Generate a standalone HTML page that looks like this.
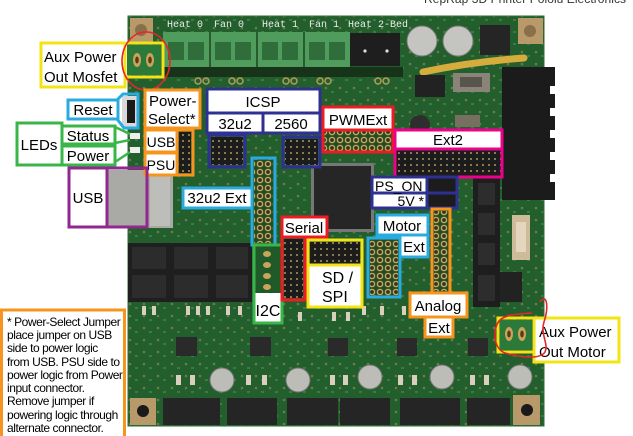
<!DOCTYPE html>
<html><head><meta charset="utf-8"><style>
html,body{margin:0;padding:0;background:#fff;}
svg{display:block;}
.l{font-family:"Liberation Sans",Arial,sans-serif;font-size:15px;fill:#000;}
.c{text-anchor:middle;}
.m{font-family:"Liberation Mono",monospace;font-size:10px;fill:#e8f0e8;}
.f{font-family:"Liberation Sans",Arial,sans-serif;font-size:12px;letter-spacing:-0.45px;fill:#000;}
</style></head><body>
<svg width="633" height="436" viewBox="0 0 633 436" xmlns="http://www.w3.org/2000/svg">
<defs>
<pattern id="hdr" width="6" height="6" patternUnits="userSpaceOnUse"><rect width="6" height="6" fill="#1c1c1c"/><rect x="2" y="2" width="2" height="2" fill="#8a7a50"/></pattern>
<pattern id="ring" width="8" height="8" patternUnits="userSpaceOnUse"><rect width="8" height="8" fill="#1f4f26"/><circle cx="4" cy="4" r="2.6" fill="#3a3020" stroke="#c9a45a" stroke-width="1.4"/></pattern>
<pattern id="via" width="14" height="12" patternUnits="userSpaceOnUse"><rect width="14" height="12" fill="#235e2d"/><circle cx="4" cy="4" r="1.3" fill="#6f7a4a"/><rect x="9" y="7" width="3" height="2" fill="#3d7a45"/></pattern>
</defs>
<rect width="633" height="436" fill="#fff"/>
<!-- top caption (cut off) -->
<text x="424" y="3" font-family="Liberation Sans, Arial, sans-serif" font-size="12" fill="#333" textLength="202">RepRap 3D Printer Pololu Electronics</text>

<!-- board -->
<rect x="128" y="16" width="416" height="410" fill="url(#via)"/>
<rect x="128" y="16" width="416" height="410" fill="none" stroke="#2f6e38" stroke-width="1"/>
<!-- top labels -->
<text class="m" x="167" y="27">Heat 0</text>
<text class="m" x="214" y="27">Fan 0</text>
<text class="m" x="262" y="27">Heat 1</text>
<text class="m" x="309" y="27">Fan 1</text>
<text class="m" x="348" y="27">Heat 2-Bed</text>
<!-- terminal blocks -->
<rect x="163" y="32" width="187" height="36" fill="#4f9c5c"/>
<g fill="#2f6e3a">
<rect x="168" y="42" width="16" height="18"/><rect x="188" y="42" width="16" height="18"/>
<rect x="215" y="42" width="16" height="18"/><rect x="235" y="42" width="16" height="18"/>
<rect x="262" y="42" width="16" height="18"/><rect x="282" y="42" width="16" height="18"/>
<rect x="309" y="42" width="16" height="18"/><rect x="329" y="42" width="16" height="18"/>
</g>
<g fill="#2a5a30"><rect x="209" y="32" width="2" height="36"/><rect x="256" y="32" width="2" height="36"/><rect x="303" y="32" width="2" height="36"/></g>
<rect x="163" y="67" width="240" height="10" fill="#17341b"/>
<g fill="none" stroke="#b59a5a" stroke-width="1.5">
<circle cx="198" cy="81" r="3"/><circle cx="206" cy="81" r="3"/>
<circle cx="232" cy="81" r="3"/><circle cx="240" cy="81" r="3"/>
<circle cx="286" cy="81" r="3"/><circle cx="294" cy="81" r="3"/>
<circle cx="320" cy="81" r="3"/><circle cx="328" cy="81" r="3"/>
<circle cx="378" cy="81" r="3"/><circle cx="386" cy="81" r="3"/>
</g>
<!-- black 2-pin -->
<rect x="350" y="33" width="50" height="33" fill="#1e1e1e"/>
<circle cx="365" cy="51" r="1.6" fill="#ddd"/><circle cx="387" cy="51" r="1.6" fill="#ddd"/>
<!-- caps top -->
<circle cx="422" cy="41" r="15" fill="#c4c4c0" stroke="#7a7a75"/>
<circle cx="458" cy="41" r="15" fill="#c4c4c0" stroke="#7a7a75"/>
<rect x="480" y="25" width="30" height="30" fill="#252525"/>
<!-- mounting pads -->
<rect x="130" y="18" width="23" height="24" fill="#b89a6a"/><circle cx="141" cy="30" r="6" fill="#8a7048"/>
<rect x="518" y="18" width="25" height="26" fill="#b89a6a"/><circle cx="530" cy="31" r="6" fill="#8a7048"/>
<rect x="130" y="398" width="26" height="27" fill="#b89a6a"/><circle cx="143" cy="411" r="6" fill="#1a1a1a"/>
<rect x="513" y="395" width="27" height="30" fill="#b89a6a"/><circle cx="527" cy="410" r="6" fill="#1a1a1a"/>
<!-- yellow wire -->
<path d="M423 72 Q470 62 524 58" stroke="#d6ad3c" stroke-width="7" fill="none" stroke-linecap="round"/>
<!-- right big connector -->
<rect x="502" y="67" width="53" height="133" fill="#1b1b1b"/>
<g fill="#fff"><rect x="550" y="86" width="5" height="8"/><rect x="550" y="108" width="5" height="8"/><rect x="550" y="130" width="5" height="8"/><rect x="550" y="152" width="5" height="8"/><rect x="550" y="174" width="5" height="8"/></g>
<!-- misc parts top-mid -->
<rect x="415" y="75" width="30" height="22" fill="#222"/>
<rect x="453" y="73" width="37" height="19" fill="#8a8478"/>
<rect x="460" y="77" width="22" height="10" fill="#5a554c"/>
<circle cx="420" cy="125" r="10" fill="#2e2e2e"/>
<rect x="455" y="115" width="25" height="12" fill="#777060"/>
<!-- big chip -->
<rect x="311" y="163" width="63" height="69" fill="#777"/>
<rect x="314" y="166" width="57" height="63" fill="#262626"/>
<!-- right column connectors -->
<rect x="473" y="178" width="27" height="129" fill="#1e1e1e"/>
<g fill="#2d2d2d"><rect x="478" y="183" width="17" height="22"/><rect x="478" y="213" width="17" height="22"/><rect x="478" y="243" width="17" height="22"/><rect x="478" y="275" width="17" height="26"/></g>
<rect x="500" y="272" width="22" height="30" fill="#222"/>
<rect x="512" y="215" width="18" height="45" fill="#cdbb9a"/>
<rect x="516" y="222" width="10" height="30" fill="#e4d7bd"/>
<!-- endstop connectors -->
<rect x="128" y="243" width="124" height="59" fill="#1f1f1f"/>
<g fill="#2c2c2c"><rect x="132" y="247" width="34" height="22"/><rect x="174" y="247" width="34" height="22"/><rect x="216" y="247" width="32" height="22"/>
<rect x="132" y="275" width="34" height="23"/><rect x="174" y="275" width="34" height="23"/><rect x="216" y="275" width="32" height="23"/></g>
<!-- small SMD parts row -->
<g fill="#d8d0bc">
<rect x="142" y="306" width="4" height="9"/><rect x="152" y="306" width="4" height="9"/><rect x="186" y="306" width="4" height="9"/><rect x="196" y="306" width="4" height="9"/><rect x="206" y="306" width="4" height="9"/><rect x="226" y="306" width="4" height="9"/><rect x="238" y="306" width="4" height="9"/>
<rect x="298" y="312" width="4" height="9"/><rect x="332" y="312" width="4" height="9"/><rect x="346" y="312" width="4" height="9"/><rect x="362" y="306" width="4" height="9"/><rect x="380" y="306" width="4" height="9"/><rect x="402" y="306" width="4" height="9"/>
<rect x="176" y="375" width="5" height="10"/><rect x="190" y="375" width="5" height="10"/><rect x="246" y="375" width="5" height="10"/><rect x="262" y="375" width="5" height="10"/>
<rect x="330" y="375" width="5" height="10"/><rect x="343" y="375" width="5" height="10"/><rect x="398" y="375" width="5" height="10"/><rect x="412" y="375" width="5" height="10"/><rect x="470" y="375" width="5" height="10"/><rect x="484" y="375" width="5" height="10"/>
</g>
<!-- stepper chips -->
<g fill="#2a2a2a">
<rect x="176" y="337" width="21" height="19"/><rect x="250" y="337" width="21" height="19"/><rect x="328" y="338" width="20" height="18"/><rect x="397" y="338" width="20" height="18"/><rect x="468" y="338" width="20" height="18"/>
</g>
<!-- caps -->
<g fill="#bdbdb8" stroke="#777" stroke-width="1">
<circle cx="222" cy="380" r="12"/><circle cx="298" cy="380" r="12"/><circle cx="370" cy="377" r="12"/><circle cx="442" cy="377" r="12"/><circle cx="520" cy="377" r="12"/>
</g>
<!-- bottom connectors -->
<g fill="#252525">
<rect x="163" y="398" width="57" height="27"/><rect x="227" y="398" width="50" height="27"/><rect x="287" y="398" width="51" height="27"/><rect x="340" y="398" width="50" height="27"/><rect x="400" y="398" width="60" height="27"/><rect x="467" y="398" width="43" height="27"/>
</g>
<!-- reset switch -->
<rect x="122" y="96" width="16" height="31" fill="#d8d8d8"/>
<rect x="127" y="100" width="8" height="23" fill="#1a1a1a"/>
<!-- LEDs -->
<rect x="130" y="133" width="10" height="6" fill="#eee"/>
<rect x="130" y="147" width="10" height="6" fill="#eee"/>
<!-- USB metal -->
<rect x="107" y="170" width="66" height="58" fill="#a9a9a5"/>
<rect x="150" y="172" width="20" height="54" fill="#bdbdb9"/>

<!-- ===== LABELS ===== -->
<!-- Aux Power Out Mosfet -->
<rect x="41" y="43" width="84" height="44" fill="#fff" stroke="#f2e416" stroke-width="3"/>
<text class="l" x="44" y="62">Aux Power</text>
<text class="l" x="44" y="82">Out Mosfet</text>
<rect x="127" y="45" width="34" height="30" fill="#2c7a3a"/>
<ellipse cx="137" cy="60" rx="4" ry="7" fill="#c9a45a"/><ellipse cx="137" cy="60" rx="1.8" ry="3.5" fill="#5a3a1a"/>
<ellipse cx="150" cy="60" rx="4" ry="7" fill="#c9a45a"/><ellipse cx="150" cy="60" rx="1.8" ry="3.5" fill="#5a3a1a"/>
<rect x="125" y="43" width="38" height="34" fill="none" stroke="#f2e416" stroke-width="3"/>
<ellipse cx="146" cy="61" rx="24" ry="29" fill="none" stroke="#e8262a" stroke-width="1.6"/>

<!-- Reset -->
<rect x="68" y="100" width="50" height="19" fill="#fff" stroke="#29abe2" stroke-width="3"/>
<text class="l c" x="93" y="115">Reset</text>
<polyline points="117,100 123,94 138,94 138,128 124,128 117,119" fill="none" stroke="#29abe2" stroke-width="3"/>

<!-- Power-Select -->
<rect x="145" y="90" width="55" height="38" fill="#fff" stroke="#f7941d" stroke-width="3"/>
<text class="l" x="149" y="106">Power-</text>
<text class="l" x="148" y="124">Select*</text>
<rect x="145" y="130" width="32" height="22" fill="#fff" stroke="#f7941d" stroke-width="3"/>
<text class="l c" x="161" y="147" style="font-size:14px">USB</text>
<rect x="145" y="153" width="32" height="22" fill="#fff" stroke="#f7941d" stroke-width="3"/>
<text class="l c" x="161" y="170" style="font-size:14px">PSU</text>
<rect x="179" y="132" width="12" height="41" fill="url(#hdr)"/>
<rect x="177" y="130" width="16" height="45" fill="none" stroke="#f7941d" stroke-width="3"/>

<!-- LEDs -->
<rect x="17" y="123" width="45" height="42" fill="#fff" stroke="#39b54a" stroke-width="3"/>
<text class="l c" x="39" y="150">LEDs</text>
<rect x="62" y="126" width="53" height="18" fill="#fff" stroke="#39b54a" stroke-width="3"/>
<text class="l c" x="88" y="141">Status</text>
<rect x="62" y="146" width="53" height="19" fill="#fff" stroke="#39b54a" stroke-width="3"/>
<text class="l c" x="88" y="161">Power</text>
<g stroke="#39b54a" stroke-width="2.5" fill="none"><polyline points="115,127 130,134"/><polyline points="115,143 130,140"/><polyline points="115,162 130,152"/></g>

<!-- USB -->
<rect x="69" y="168" width="38" height="59" fill="#fff"/>
<rect x="69" y="168" width="78" height="59" fill="none" stroke="#92278f" stroke-width="3"/>
<line x1="107" y1="168" x2="107" y2="227" stroke="#92278f" stroke-width="3"/>
<text class="l c" x="88" y="203">USB</text>

<!-- ICSP -->
<rect x="207" y="89" width="113" height="24" fill="#fff" stroke="#2e3192" stroke-width="3"/>
<text class="l c" x="263" y="107">ICSP</text>
<rect x="207" y="113" width="56" height="20" fill="#fff" stroke="#2e3192" stroke-width="3"/>
<text class="l c" x="235" y="129">32u2</text>
<rect x="263" y="113" width="57" height="20" fill="#fff" stroke="#2e3192" stroke-width="3"/>
<text class="l c" x="291" y="129">2560</text>
<rect x="211" y="137" width="32" height="28" fill="url(#hdr)"/>
<rect x="209" y="135" width="36" height="32" fill="none" stroke="#2e3192" stroke-width="3"/>
<rect x="285" y="139" width="33" height="26" fill="url(#hdr)"/>
<rect x="283" y="137" width="37" height="30" fill="none" stroke="#2e3192" stroke-width="3"/>

<!-- PWMExt -->
<rect x="323" y="130" width="70" height="22" fill="url(#ring)"/>
<rect x="323" y="107" width="70" height="23" fill="#fff"/>
<rect x="323" y="107" width="70" height="45" fill="none" stroke="#ed1c24" stroke-width="3"/>
<line x1="323" y1="130" x2="393" y2="130" stroke="#ed1c24" stroke-width="3"/>
<text class="l c" x="358" y="125">PWMExt</text>

<!-- Ext2 -->
<rect x="395" y="149" width="107" height="28" fill="url(#hdr)"/>
<rect x="395" y="130" width="107" height="19" fill="#fff"/>
<rect x="395" y="130" width="107" height="47" fill="none" stroke="#ec008c" stroke-width="3"/>
<line x1="395" y1="149" x2="502" y2="149" stroke="#ec008c" stroke-width="3"/>
<text class="l c" x="448" y="145">Ext2</text>

<!-- PS_ON / 5V -->
<rect x="372" y="177" width="55" height="31" fill="#fff"/>
<rect x="427" y="177" width="30" height="31" fill="#1c1c1c"/>
<rect x="372" y="177" width="85" height="31" fill="none" stroke="#2e3192" stroke-width="3"/>
<line x1="372" y1="193" x2="457" y2="193" stroke="#2e3192" stroke-width="3"/>
<line x1="427" y1="177" x2="427" y2="208" stroke="#2e3192" stroke-width="3"/>
<text class="l" x="375" y="191" style="font-size:14px">PS_ON</text>
<text class="l" x="424" y="206" text-anchor="end" style="font-size:14px">5V *</text>

<!-- 32u2 Ext -->
<rect x="183" y="188" width="69" height="20" fill="#fff" stroke="#29abe2" stroke-width="3"/>
<text class="l c" x="217" y="203">32u2 Ext</text>
<rect x="254" y="160" width="19" height="83" fill="url(#ring)"/>
<rect x="252" y="158" width="23" height="87" fill="none" stroke="#29abe2" stroke-width="3"/>

<!-- I2C -->
<rect x="254" y="245" width="28" height="48" fill="#1f5a28"/>
<g fill="#c9a45a"><ellipse cx="267" cy="254" rx="4" ry="3"/><ellipse cx="267" cy="265" rx="4" ry="3"/><ellipse cx="267" cy="276" rx="4" ry="3"/><ellipse cx="267" cy="287" rx="4" ry="3"/></g>
<rect x="254" y="293" width="28" height="30" fill="#fff"/>
<rect x="254" y="245" width="28" height="78" fill="none" stroke="#39b54a" stroke-width="3"/>
<text class="l c" x="268" y="316" style="font-size:16px">I2C</text>

<!-- Serial -->
<rect x="282" y="217" width="45" height="20" fill="#fff" stroke="#ed1c24" stroke-width="3"/>
<text class="l c" x="304" y="233">Serial</text>
<rect x="284" y="239" width="19" height="59" fill="url(#hdr)"/>
<rect x="282" y="237" width="23" height="63" fill="none" stroke="#ed1c24" stroke-width="3"/>

<!-- SD / SPI -->
<rect x="310" y="242" width="50" height="22" fill="url(#hdr)"/>
<rect x="308" y="265" width="54" height="42" fill="#fff"/>
<rect x="308" y="240" width="54" height="67" fill="none" stroke="#f2e416" stroke-width="3"/>
<line x1="308" y1="265" x2="362" y2="265" stroke="#f2e416" stroke-width="3"/>
<text class="l" x="322" y="283" style="font-size:16px">SD /</text>
<text class="l" x="322" y="302" style="font-size:16px">SPI</text>

<!-- Motor Ext -->
<rect x="370" y="240" width="28" height="55" fill="url(#ring)"/>
<rect x="368" y="238" width="32" height="59" fill="none" stroke="#29abe2" stroke-width="3"/>
<rect x="377" y="215" width="51" height="20" fill="#fff" stroke="#29abe2" stroke-width="3"/>
<text class="l c" x="402" y="231">Motor</text>
<rect x="400" y="235" width="28" height="22" fill="#fff" stroke="#29abe2" stroke-width="3"/>
<text class="l c" x="414" y="252">Ext</text>

<!-- Analog Ext -->
<rect x="434" y="211" width="14" height="80" fill="url(#ring)"/>
<rect x="432" y="209" width="18" height="84" fill="none" stroke="#f7941d" stroke-width="3"/>
<rect x="410" y="293" width="57" height="24" fill="#fff" stroke="#f7941d" stroke-width="3"/>
<text class="l c" x="438" y="311">Analog</text>
<rect x="425" y="317" width="28" height="20" fill="#fff" stroke="#f7941d" stroke-width="3"/>
<text class="l c" x="439" y="333">Ext</text>

<!-- Aux Power Out Motor -->
<rect x="500" y="320" width="32" height="30" fill="#2c7a3a"/>
<ellipse cx="509" cy="334" rx="4" ry="7" fill="#c9a45a"/><ellipse cx="509" cy="334" rx="1.8" ry="3.5" fill="#5a3a1a"/>
<ellipse cx="522" cy="334" rx="4" ry="7" fill="#c9a45a"/><ellipse cx="522" cy="334" rx="1.8" ry="3.5" fill="#5a3a1a"/>
<rect x="498" y="318" width="36" height="34" fill="none" stroke="#f2e416" stroke-width="3"/>
<rect x="534" y="318" width="85" height="44" fill="#fff" stroke="#f2e416" stroke-width="3"/>
<text class="l" x="539" y="337">Aux Power</text>
<text class="l" x="539" y="357">Out Motor</text>
<path d="M540,302 C547,292 549,308 544,322 C540,334 549,344 545,352 C540,360 520,357 505,353 C494,349 492,331 499,321 C505,314 520,314 532,313" fill="none" stroke="#e8262a" stroke-width="1.6"/>

<!-- footnote -->
<rect x="1.5" y="310" width="123" height="132" fill="#fff" stroke="#f7941d" stroke-width="3"/>
<text class="f" x="7" y="326">* Power-Select Jumper</text>
<text class="f" x="7" y="339">place jumper on USB</text>
<text class="f" x="7" y="352">side to power logic</text>
<text class="f" x="7" y="366">from USB. PSU side to</text>
<text class="f" x="7" y="379">power logic from Power</text>
<text class="f" x="7" y="392">input connector.</text>
<text class="f" x="7" y="405">Remove jumper if</text>
<text class="f" x="7" y="419">powering logic through</text>
<text class="f" x="7" y="432">alternate connector.</text>
</svg>
</body></html>
